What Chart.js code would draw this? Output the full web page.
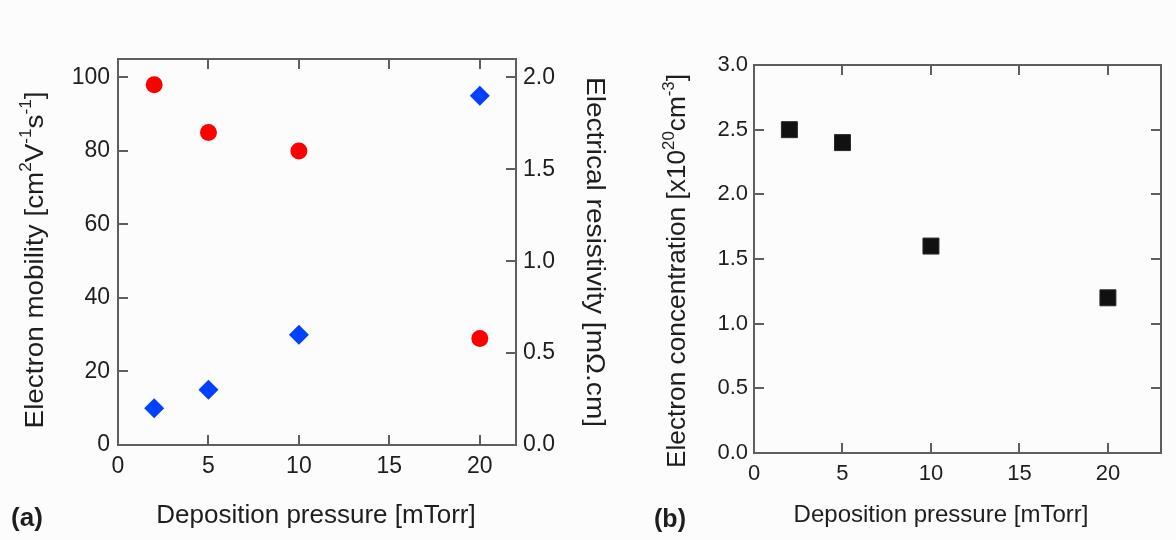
<!DOCTYPE html>
<html>
<head>
<meta charset="utf-8">
<script src="https://cdn.jsdelivr.net/npm/chart.js@4.4.1/dist/chart.umd.min.js"></script>
<style>
  html, body { margin: 0; padding: 0; background: #fcfcfc; }
  #wrap { position: relative; width: 1176px; height: 540px; }
  #chartA { position: absolute; left: 0; top: 0; }
  #chartB { position: absolute; left: 620px; top: 0; }
</style>
</head>
<body>
<div id="wrap">
  <canvas id="chartA" width="620" height="540"></canvas>
  <canvas id="chartB" width="556" height="540"></canvas>
</div>
<script>
// Data
const pressure = [2, 5, 10, 20];               // mTorr
const mobility = [98, 85, 80, 29];             // cm2/Vs (left axis, red)
const resistivity = [0.2, 0.3, 0.6, 1.9];      // mOhm.cm (right axis, blue)
const concentration = [2.5, 2.4, 1.6, 1.2];    // x10^20 cm-3

// Axis ranges / steps
const xRangeA = [0, 22];
const xRangeB = [0, 23];
const xStep = 5;
const mobilityRange = [0, 105];
const mobilityStep = 20;
const resistRange = [0, 2.1];
const resistStep = 0.5;
const concRange = [0, 3.0];
const concStep = 0.5;

const FONT = "'Liberation Sans', Arial, Helvetica, sans-serif";
const TEXT = '#1e1e1e';
const AXIS = '#5e5e5e';

const toXY = (xs, ys) => xs.map((x, i) => ({ x: x, y: ys[i] }));

// draws text made of normal and superscript parts, centered on (x, y)
function drawRich(ctx, parts, x, y, rot, size, stretch, bold) {
    const w = bold ? 'bold ' : '';
    const supSize = Math.round(size * 0.62);
    let total = 0;
    parts.forEach(p => {
        ctx.font = w + (p[1] ? supSize : size) + 'px ' + FONT;
        total += ctx.measureText(p[0]).width;
    });
    ctx.save();
    ctx.translate(x, y);
    ctx.rotate(rot);
    ctx.scale(stretch || 1, 1);
    ctx.fillStyle = TEXT;
    ctx.textBaseline = 'alphabetic';
    ctx.textAlign = 'left';
    let cx = -total / 2;
    parts.forEach(p => {
        ctx.font = w + (p[1] ? supSize : size) + 'px ' + FONT;
        ctx.fillText(p[0], cx, p[1] ? -size * 0.45 : 0);
        cx += ctx.measureText(p[0]).width;
    });
    ctx.restore();
}

// box with inward ticks
const frame = {
    id: 'frame',
    beforeDatasetsDraw(chart, args, opts) {
        const { ctx, chartArea: a, scales } = chart;
        const L = 10;
        ctx.save();
        ctx.strokeStyle = AXIS;
        ctx.lineWidth = 2;
        ctx.strokeRect(a.left, a.top, a.right - a.left, a.bottom - a.top);
        ctx.beginPath();
        scales.x.ticks.forEach(t => {
            const px = Math.round(scales.x.getPixelForValue(t.value));
            if (px <= a.left + 1 || px >= a.right - 1) return;
            ctx.moveTo(px, a.bottom); ctx.lineTo(px, a.bottom - L);
            ctx.moveTo(px, a.top); ctx.lineTo(px, a.top + L);
        });
        scales.y.ticks.forEach(t => {
            const py = Math.round(scales.y.getPixelForValue(t.value));
            if (py >= a.bottom - 1 || py <= a.top + 1) return;
            ctx.moveTo(a.left, py); ctx.lineTo(a.left + L, py);
            if (opts.mirrorY) { ctx.moveTo(a.right, py); ctx.lineTo(a.right - L, py); }
        });
        if (scales.y2) {
            scales.y2.ticks.forEach(t => {
                const py = Math.round(scales.y2.getPixelForValue(t.value));
                if (py >= a.bottom - 1 || py <= a.top + 1) return;
                ctx.moveTo(a.right, py); ctx.lineTo(a.right - L, py);
            });
        }
        ctx.stroke();
        ctx.restore();
    }
};

const labels = {
    id: 'labels',
    afterDraw(chart, args, opts) {
        const ctx = chart.ctx;
        opts.items.forEach(it => drawRich(ctx, it.parts, it.x, it.y, it.rot || 0, it.size, it.stretch, it.bold));
    }
};

function fixed(size) {
    return function (scale) {
        if (scale.isHorizontal()) scale.height = size;
        else scale.width = size;
    };
}

const baseOpts = {
    responsive: false,
    animation: false,
    events: [],
    plugins: { legend: { display: false }, tooltip: { enabled: false } }
};

// (a) mobility + resistivity
new Chart(document.getElementById('chartA'), {
    type: 'scatter',
    data: {
        datasets: [{
            label: 'Electron mobility',
            data: toXY(pressure, mobility),
            yAxisID: 'y',
            pointStyle: 'circle',
            pointRadius: 8.5,
            backgroundColor: '#ff0000',
            borderWidth: 0
        }, {
            label: 'Electrical resistivity',
            data: toXY(pressure, resistivity),
            yAxisID: 'y2',
            pointStyle: 'rectRot',
            pointRadius: 10,
            backgroundColor: '#0040ff',
            borderWidth: 0
        }]
    },
    options: {
        ...baseOpts,
        layout: { padding: { top: 59, left: 0, right: 0, bottom: 0 } },
        scales: {
            x: {
                type: 'linear', position: 'bottom',
                min: xRangeA[0], max: xRangeA[1],
                grid: { display: false, drawTicks: false },
                border: { display: false },
                ticks: { stepSize: xStep, includeBounds: false, padding: 8, color: TEXT, font: { family: FONT, size: 23 } },
                afterFit: fixed(95)
            },
            y: {
                position: 'left',
                min: mobilityRange[0], max: mobilityRange[1],
                grid: { display: false, drawTicks: false },
                border: { display: false },
                ticks: { stepSize: mobilityStep, includeBounds: false, padding: 8, color: TEXT, font: { family: FONT, size: 23 } },
                afterFit: fixed(118)
            },
            y2: {
                position: 'right',
                min: resistRange[0], max: resistRange[1],
                grid: { display: false, drawTicks: false },
                border: { display: false },
                ticks: { stepSize: resistStep, includeBounds: false, padding: 7, color: TEXT, font: { family: FONT, size: 23 },
                         callback: v => v.toFixed(1) },
                afterFit: fixed(104)
            }
        },
        plugins: {
            ...baseOpts.plugins,
            frame: { mirrorY: false },
            labels: {
                items: [
                    { parts: [['Electron mobility [cm'], ['2', 1], ['V'], ['-1', 1], ['s'], ['-1', 1], [']']],
                      x: 43, y: 260, rot: -Math.PI / 2, size: 26, stretch: 1.07 },
                    { parts: [['Electrical resistivity [m\u03A9.cm]']],
                      x: 587, y: 252, rot: Math.PI / 2, size: 26, stretch: 1.08 },
                    { parts: [['Deposition pressure [mTorr]']], x: 316, y: 523, size: 26 },
                    { parts: [['(a)']], x: 27, y: 526, size: 26, bold: true }
                ]
            }
        }
    },
    plugins: [frame, labels]
});

// (b) carrier concentration
new Chart(document.getElementById('chartB'), {
    type: 'scatter',
    data: {
        datasets: [{
            label: 'Electron concentration',
            data: toXY(pressure, concentration),
            pointStyle: 'rect',
            pointRadius: 11.3,
            backgroundColor: '#111111',
            borderColor: '#2a2a2a',
            borderWidth: 1
        }]
    },
    options: {
        ...baseOpts,
        layout: { padding: { top: 65, left: 0, right: 15, bottom: 0 } },
        scales: {
            x: {
                type: 'linear', position: 'bottom',
                min: xRangeB[0], max: xRangeB[1],
                grid: { display: false, drawTicks: false },
                border: { display: false },
                ticks: { stepSize: xStep, includeBounds: false, padding: 8, color: TEXT, font: { family: FONT, size: 22 } },
                afterFit: fixed(87)
            },
            y: {
                position: 'left',
                min: concRange[0], max: concRange[1],
                grid: { display: false, drawTicks: false },
                border: { display: false },
                ticks: { stepSize: concStep, padding: 6, color: TEXT, font: { family: FONT, size: 22 },
                         callback: v => v.toFixed(1) },
                afterFit: fixed(134)
            }
        },
        plugins: {
            ...baseOpts.plugins,
            frame: { mirrorY: true },
            labels: {
                items: [
                    { parts: [['Electron concentration [x10'], ['20', 1], ['cm'], ['-3', 1], [']']],
                      x: 65, y: 271, rot: -Math.PI / 2, size: 25, stretch: 1.05 },
                    { parts: [['Deposition pressure [mTorr]']], x: 321, y: 522, size: 24 },
                    { parts: [['(b)']], x: 50, y: 527, size: 25, bold: true }
                ]
            }
        }
    },
    plugins: [frame, labels]
});
</script>
</body>
</html>
